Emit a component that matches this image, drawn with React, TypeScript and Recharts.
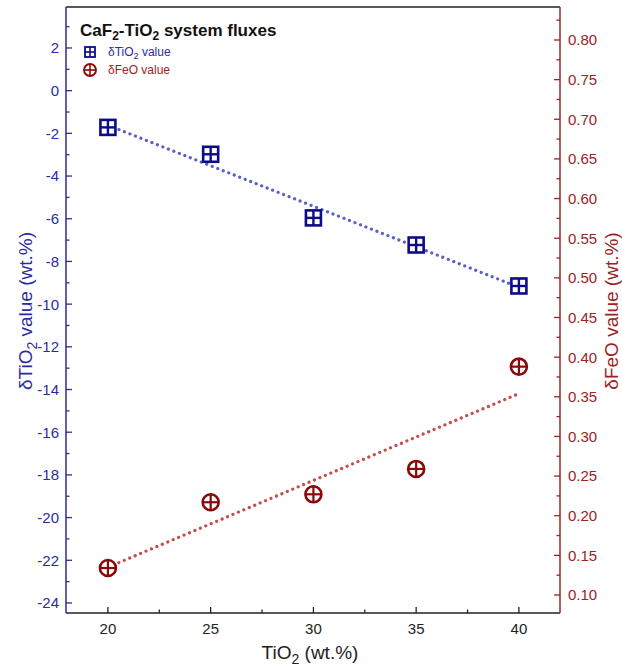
import React from 'react';
import { ComposedChart, Scatter, XAxis, YAxis, ReferenceLine, Legend, Label } from 'recharts';

// ---- data ----
const tio2Content = [20, 25, 30, 35, 40];
const deltaTiO2 = [-1.72, -2.98, -5.96, -7.23, -9.15];
const deltaFeO = [0.134, 0.217, 0.227, 0.259, 0.388];
const trendX = [20, 40];
const trendTiO2 = [-1.62, -9.21];
const trendFeO = [0.135, 0.354];

const xMajorTicks = [20, 25, 30, 35, 40];
const xMinorTicks = [22.5, 27.5, 32.5, 37.5];
const leftMajorTicks = [-24, -22, -20, -18, -16, -14, -12, -10, -8, -6, -4, -2, 0, 2];
const leftMinorTicks = [-23, -21, -19, -17, -15, -13, -11, -9, -7, -5, -3, -1, 1, 3];
const rightMajorTicks = [0.1, 0.15, 0.2, 0.25, 0.3, 0.35, 0.4, 0.45, 0.5, 0.55, 0.6, 0.65, 0.7, 0.75, 0.8];
const rightMinorTicks = [0.125, 0.175, 0.225, 0.275, 0.325, 0.375, 0.425, 0.475, 0.525, 0.575, 0.625, 0.675, 0.725, 0.775, 0.825];

const xDomain = [17.96, 42];
const leftDomain = [-24.47, 3.92];
const rightDomain = [0.0773, 0.8416];

const BLUE = '#2b2ba3';
const NAVY = '#0c0c8a';
const BLUE_DOT = '#5862c6';
const RED = '#9a2424';
const DARKRED = '#8c0808';
const RED_DOT = '#c44e4e';
const FONT = '"Liberation Sans", Arial, sans-serif';
const TICK_FS = 15;
const LABEL_FS = 19;

const tiData = tio2Content.map((x, i) => ({ x, y: deltaTiO2[i] }));
const feData = tio2Content.map((x, i) => ({ x, y: deltaFeO[i] }));
const tiTrend = trendX.map((x, i) => ({ x, y: trendTiO2[i] }));
const feTrend = trendX.map((x, i) => ({ x, y: trendFeO[i] }));

const sortAll = (a: number[], b: number[]) => [...a, ...b].sort((p, q) => p - q);
const isIn = (arr: number[], v: number) => arr.some((m) => Math.abs(m - v) < 1e-6);

const LeftTick = (props: any) => {
  const { x, y, payload } = props;
  const major = isIn(leftMajorTicks, payload.value);
  const len = major ? 6 : 3.5;
  return (
    <g>
      <line x1={x} y1={y} x2={x + len} y2={y} stroke={BLUE} strokeWidth={1.3} />
      {major && (
        <text x={x - 7} y={y} dy="0.36em" textAnchor="end" fill={BLUE} fontSize={TICK_FS} fontFamily={FONT}>
          {String(payload.value)}
        </text>
      )}
    </g>
  );
};

const RightTick = (props: any) => {
  const { x, y, payload } = props;
  const major = isIn(rightMajorTicks, payload.value);
  const len = major ? 6 : 3.5;
  return (
    <g>
      <line x1={x} y1={y} x2={x - len} y2={y} stroke={RED} strokeWidth={1.3} />
      {major && (
        <text x={x + 8} y={y} dy="0.36em" textAnchor="start" fill={RED} fontSize={TICK_FS} fontFamily={FONT}>
          {Number(payload.value).toFixed(2)}
        </text>
      )}
    </g>
  );
};

const BottomTick = (props: any) => {
  const { x, y, payload } = props;
  const major = isIn(xMajorTicks, payload.value);
  const len = major ? 6 : 3.5;
  return (
    <g>
      <line x1={x} y1={y} x2={x} y2={y - len} stroke="#222" strokeWidth={1.3} />
      {major && (
        <text x={x} y={y + 21} textAnchor="middle" fill="#222" fontSize={TICK_FS} fontFamily={FONT}>
          {String(payload.value)}
        </text>
      )}
    </g>
  );
};

const SquareMarker = (props: any) => {
  const { cx, cy } = props;
  if (cx == null || cy == null) return <g />;
  const h = 7.5;
  return (
    <g>
      <rect x={cx - h} y={cy - h} width={2 * h} height={2 * h} fill="#fff" stroke={NAVY} strokeWidth={2.6} />
      <line x1={cx - h} y1={cy} x2={cx + h} y2={cy} stroke={NAVY} strokeWidth={2.4} />
      <line x1={cx} y1={cy - h} x2={cx} y2={cy + h} stroke={NAVY} strokeWidth={2.4} />
    </g>
  );
};

const CircleMarker = (props: any) => {
  const { cx, cy } = props;
  if (cx == null || cy == null) return <g />;
  const r = 8;
  return (
    <g>
      <circle cx={cx} cy={cy} r={r} fill="#fff" stroke={DARKRED} strokeWidth={2.6} />
      <line x1={cx - r} y1={cy} x2={cx + r} y2={cy} stroke={DARKRED} strokeWidth={2.2} />
      <line x1={cx} y1={cy - r} x2={cx} y2={cy + r} stroke={DARKRED} strokeWidth={2.2} />
    </g>
  );
};

const NoShape = () => <g />;

const LegendContent = () => (
  <svg width={320} height={90} style={{ display: 'block' }}>
    <text x={80} y={36} fontSize={17} fontWeight="bold" fontFamily={FONT} fill="#111">
      CaF<tspan fontSize={12} dy={4}>2</tspan>
      <tspan dy={-4}>-TiO</tspan>
      <tspan fontSize={12} dy={4}>2</tspan>
      <tspan dy={-4}> system fluxes</tspan>
    </text>
    <g>
      <rect x={85} y={47} width={10} height={10} fill="#fff" stroke={NAVY} strokeWidth={1.8} />
      <line x1={85} y1={52} x2={95} y2={52} stroke={NAVY} strokeWidth={1.6} />
      <line x1={90} y1={47} x2={90} y2={57} stroke={NAVY} strokeWidth={1.6} />
    </g>
    <text x={108} y={56} fontSize={12} fontFamily={FONT} fill={BLUE}>
      δTiO<tspan fontSize={9} dy={3}>2</tspan>
      <tspan dy={-3}> value</tspan>
    </text>
    <g>
      <circle cx={90} cy={70} r={6} fill="#fff" stroke={DARKRED} strokeWidth={1.9} />
      <line x1={84} y1={70} x2={96} y2={70} stroke={DARKRED} strokeWidth={1.6} />
      <line x1={90} y1={64} x2={90} y2={76} stroke={DARKRED} strokeWidth={1.6} />
    </g>
    <text x={108} y={74} fontSize={12} fontFamily={FONT} fill={RED}>
      δFeO value
    </text>
  </svg>
);

const LeftLabel = (props: any) => {
  const vb = props.viewBox || { x: 0, y: 7, width: 66, height: 606 };
  const cx = vb.x + 32;
  const cy = vb.y + vb.height / 2 + 1;
  return (
    <text x={cx} y={cy} transform={`rotate(-90, ${cx}, ${cy})`} textAnchor="middle" fontSize={LABEL_FS} fontFamily={FONT} fill={BLUE}>
      δTiO<tspan fontSize={14} dy={5}>2</tspan>
      <tspan dy={-5}> value (wt.%)</tspan>
    </text>
  );
};

const RightLabel = (props: any) => {
  const vb = props.viewBox || { x: 560, y: 7, width: 62, height: 606 };
  const cx = vb.x + 58;
  const cy = vb.y + vb.height / 2 + 1;
  return (
    <text x={cx} y={cy} transform={`rotate(-90, ${cx}, ${cy})`} textAnchor="middle" fontSize={LABEL_FS} fontFamily={FONT} fill={RED}>
      δFeO value (wt.%)
    </text>
  );
};

const BottomLabel = (props: any) => {
  const vb = props.viewBox || { x: 66, y: 613, width: 494, height: 55 };
  const cx = vb.x + vb.width / 2 - 3;
  const cy = vb.y + 46;
  return (
    <text x={cx} y={cy} textAnchor="middle" fontSize={LABEL_FS} fontFamily={FONT} fill="#222">
      TiO<tspan fontSize={14} dy={5}>2</tspan>
      <tspan dy={-5}> (wt.%)</tspan>
    </text>
  );
};

export default function App() {
  return (
    <div style={{ position: 'absolute', left: 0, top: 0, width: 622, height: 668, background: '#fff' }}>
      <ComposedChart width={622} height={668} margin={{ top: 7, right: 0, bottom: 0, left: 0 }}>
        <XAxis
          xAxisId="x"
          dataKey="x"
          type="number"
          domain={xDomain}
          allowDataOverflow
          ticks={sortAll(xMajorTicks, xMinorTicks)}
          interval={0}
          height={55}
          tickSize={0}
          tickMargin={0}
          tickLine={false}
          tick={<BottomTick />}
          axisLine={{ stroke: '#222', strokeWidth: 1.5 }}
        >
          <Label content={<BottomLabel />} />
        </XAxis>
        <YAxis
          yAxisId="left"
          orientation="left"
          type="number"
          domain={leftDomain}
          allowDataOverflow
          ticks={sortAll(leftMajorTicks, leftMinorTicks)}
          interval={0}
          width={66}
          tickSize={0}
          tickMargin={0}
          tickLine={false}
          tick={<LeftTick />}
          axisLine={{ stroke: BLUE, strokeWidth: 1.5 }}
        >
          <Label content={<LeftLabel />} />
        </YAxis>
        <YAxis
          yAxisId="right"
          orientation="right"
          type="number"
          domain={rightDomain}
          allowDataOverflow
          ticks={sortAll(rightMajorTicks, rightMinorTicks)}
          interval={0}
          width={62}
          tickSize={0}
          tickMargin={0}
          tickLine={false}
          tick={<RightTick />}
          axisLine={{ stroke: RED, strokeWidth: 1.5 }}
        >
          <Label content={<RightLabel />} />
        </YAxis>
        <ReferenceLine xAxisId="x" yAxisId="left" y={leftDomain[1]} stroke="#222" strokeWidth={1.5} />
        <Legend
          layout="horizontal"
          verticalAlign="middle"
          align="center"
          content={<LegendContent />}
          wrapperStyle={{ position: 'absolute', left: 0, top: 0, width: 320, height: 90 }}
        />
        <Scatter
          xAxisId="x"
          yAxisId="left"
          data={tiTrend}
          dataKey="y"
          shape={<NoShape />}
          line={{ stroke: BLUE_DOT, strokeWidth: 3.2, strokeDasharray: '0.1 5.8', strokeLinecap: 'round' }}
          isAnimationActive={false}
          legendType="none"
        />
        <Scatter
          xAxisId="x"
          yAxisId="right"
          data={feTrend}
          dataKey="y"
          shape={<NoShape />}
          line={{ stroke: RED_DOT, strokeWidth: 3.2, strokeDasharray: '0.1 5.8', strokeLinecap: 'round' }}
          isAnimationActive={false}
          legendType="none"
        />
        <Scatter
          xAxisId="x"
          yAxisId="left"
          data={tiData}
          dataKey="y"
          shape={<SquareMarker />}
          isAnimationActive={false}
        />
        <Scatter
          xAxisId="x"
          yAxisId="right"
          data={feData}
          dataKey="y"
          shape={<CircleMarker />}
          isAnimationActive={false}
        />
      </ComposedChart>
    </div>
  );
}
